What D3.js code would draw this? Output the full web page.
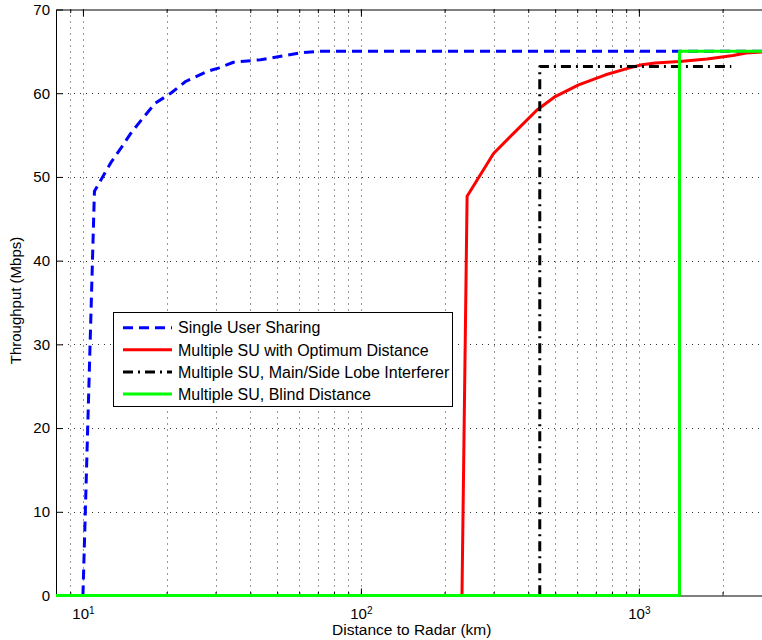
<!DOCTYPE html>
<html><head><meta charset="utf-8">
<script src="https://cdn.jsdelivr.net/npm/d3@7"></script>
<style>
body{margin:0;background:#fff}
svg{display:block}
text{font-family:"Liberation Sans",Arial,Helvetica,sans-serif;fill:#000}
</style></head>
<body><svg id="chart" width="762" height="640"></svg>
<script>
// ---- data ----
const seriesNames = ["Single User Sharing","Multiple SU with Optimum Distance","Multiple SU, Main/Side Lobe Interferer","Multiple SU, Blind Distance"];
const singleX = [10, 11, 12.6, 13.8, 15, 16.6, 18.2, 20.7, 23.4, 28, 30.7, 34.8, 43.6, 60, 70, 3000];
const singleY = [0, 48.3, 51.7, 53.6, 55.4, 57.2, 58.8, 60, 61.4, 62.6, 63, 63.7, 64, 64.8, 65, 65];
const optimumX = [8, 231, 241, 300, 430, 500, 607, 759, 918, 1025, 1144, 1400, 1760, 2180, 2430, 3000];
const optimumY = [0, 0, 47.7, 52.8, 58, 59.6, 61, 62.2, 63, 63.4, 63.6, 63.8, 64.1, 64.5, 64.8, 65];
const interfererX = [8, 440, 440, 2150];
const interfererY = [0, 0, 63.2, 63.2];
const blindX = [8, 1400, 1400, 3000];
const blindY = [0, 0, 65, 65];
const xMajorTicks = [10, 100, 1000];
const xTickExponents = ["1", "2", "3"];
const yTicks = [0, 10, 20, 30, 40, 50, 60, 70];
const xDomain = [8, 3000];
const yDomain = [0, 70];

// ---- layout ----
const svg = d3.select("#chart");
const L = 56, R = 771.5, T = 9.5, B = 595.5;
const x = d3.scaleLog().domain(xDomain).range([L, R]);
const y = d3.scaleLinear().domain(yDomain).range([B, T]);

// minor tick values for the log axis
const xMinor = [];
[1, 10, 100, 1000].forEach(d => { for (let k = 1; k <= 9; k++) { const v = k * d; if (v > xDomain[0] && v < xDomain[1]) xMinor.push(v); } });

// ---- grid ----
const grid = svg.append("g").attr("stroke", "#000").attr("stroke-width", 1).attr("stroke-dasharray", "1,5").attr("opacity", 0.8);
grid.selectAll("line.vx").data(xMinor).join("line")
  .attr("x1", d => Math.round(x(d)) + 0.5).attr("x2", d => Math.round(x(d)) + 0.5)
  .attr("y1", T).attr("y2", B);
grid.selectAll("line.hy").data(yTicks.filter(v => v > yDomain[0] && v < yDomain[1])).join("line")
  .attr("x1", L).attr("x2", R)
  .attr("y1", d => Math.round(y(d)) + 0.5).attr("y2", d => Math.round(y(d)) + 0.5);

// ---- axes ----
function styleAxis(g) { g.selectAll("path,line").attr("stroke", "#000").attr("stroke-width", 1); }
// bottom major
const bx = svg.append("g").attr("transform", `translate(0,${B})`)
  .call(d3.axisBottom(x).tickValues(xMajorTicks).tickSize(-7).tickSizeOuter(0).tickPadding(13).tickFormat(""))
  .call(styleAxis);
bx.selectAll(".tick text").each(function(d, i) {
  const t = d3.select(this).attr("font-size", 15).attr("font-family", null);
  t.append("tspan").text("10");
  t.append("tspan").attr("dy", "-0.55em").attr("font-size", 10).text(xTickExponents[i]);
});
svg.append("g").attr("transform", `translate(0,${B})`)
  .call(d3.axisBottom(x).tickValues(xMinor).tickSize(-3.5).tickSizeOuter(0).tickFormat(""))
  .call(g => g.select(".domain").remove()).call(styleAxis);
// top
svg.append("g").attr("transform", `translate(0,${T})`)
  .call(d3.axisTop(x).tickValues(xMajorTicks).tickSize(-7).tickSizeOuter(0).tickFormat(""))
  .call(styleAxis);
svg.append("g").attr("transform", `translate(0,${T})`)
  .call(d3.axisTop(x).tickValues(xMinor).tickSize(-3.5).tickSizeOuter(0).tickFormat(""))
  .call(g => g.select(".domain").remove()).call(styleAxis);
// left
const ly = svg.append("g").attr("transform", `translate(${L},0)`)
  .call(d3.axisLeft(y).tickValues(yTicks).tickSize(-7).tickSizeOuter(0).tickPadding(6).tickFormat(d3.format("d")))
  .call(styleAxis);
ly.selectAll(".tick text").attr("font-size", 15).attr("font-family", null);

// ---- lines ----
const line = d3.line().x(d => x(d[0])).y(d => y(d[1]));
const series = [
  { xs: singleX, ys: singleY, color: "#0000ff", dash: "10,6" },
  { xs: optimumX, ys: optimumY, color: "#ff0000", dash: null },
  { xs: interfererX, ys: interfererY, color: "#000000", dash: "10,5,2,5" },
  { xs: blindX, ys: blindY, color: "#00ff00", dash: null }
];
series.forEach(s => {
  svg.append("path").datum(s.xs.map((v, i) => [v, s.ys[i]]))
    .attr("d", line).attr("fill", "none").attr("stroke", s.color).attr("stroke-width", 3)
    .attr("stroke-dasharray", s.dash).attr("stroke-linejoin", "round");
});

// ---- axis labels ----
svg.append("text").attr("x", (L + R) / 2 - 2).attr("y", 635).attr("text-anchor", "middle").attr("font-size", 15.5)
  .text("Distance to Radar (km)");
svg.append("text").attr("transform", `translate(21,${(T + B) / 2 - 2}) rotate(-90)`).attr("text-anchor", "middle").attr("font-size", 15)
  .text("Throughput (Mbps)");

// ---- legend ----
const lg = svg.append("g");
lg.append("rect").attr("x", 113.5).attr("y", 312.5).attr("width", 339).attr("height", 94)
  .attr("fill", "#fff").attr("stroke", "#000").attr("stroke-width", 1);
const ls = d3.scaleLinear().domain([0, 3]).range([327.7, 394]);
series.forEach((s, i) => {
  lg.append("line").attr("x1", 123).attr("x2", 172).attr("y1", ls(i)).attr("y2", ls(i))
    .attr("stroke", s.color).attr("stroke-width", 3).attr("stroke-dasharray", s.dash);
  lg.append("text").attr("x", 178).attr("y", ls(i)).attr("dy", "0.36em").attr("font-size", 16).text(seriesNames[i]);
});
</script>
</body></html>
